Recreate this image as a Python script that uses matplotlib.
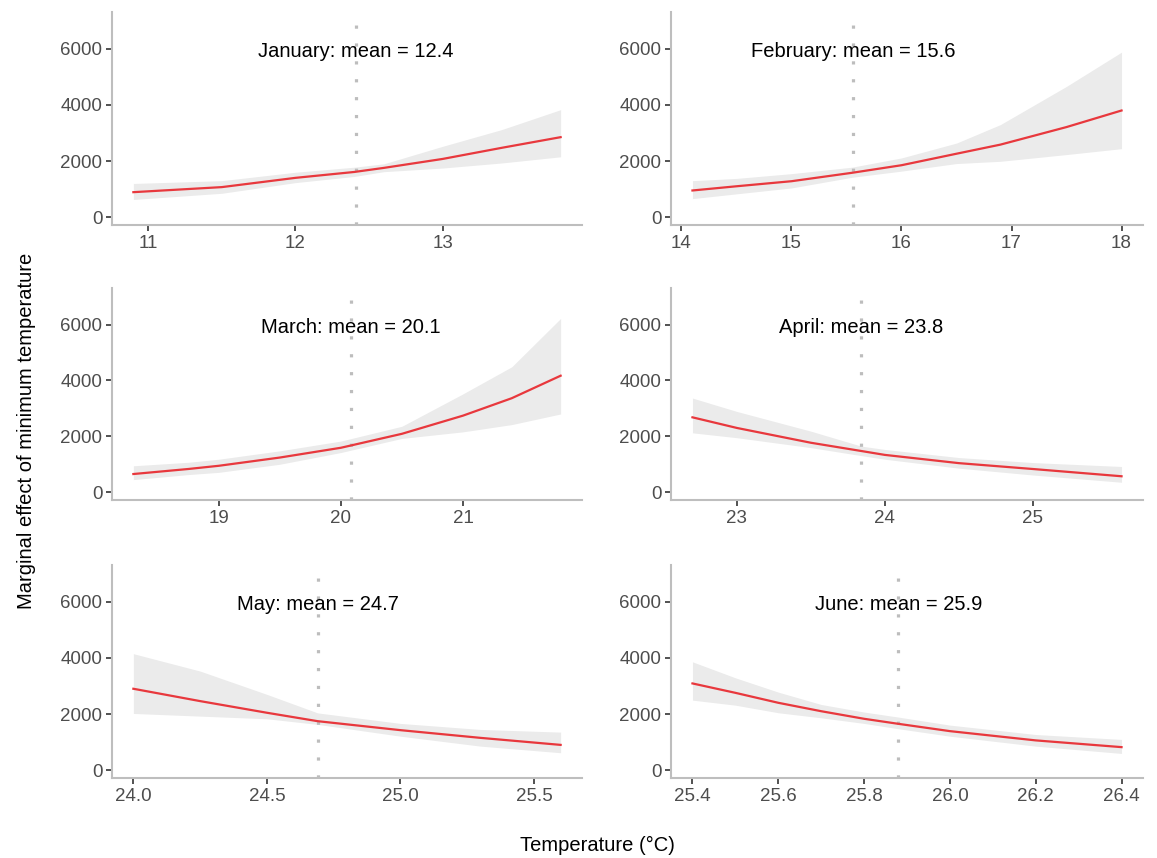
import numpy as np
import matplotlib
matplotlib.use('Agg')
import matplotlib.pyplot as plt
from matplotlib.ticker import FixedLocator

plt.rcParams['font.family'] = ['Liberation Sans', 'DejaVu Sans']

# values (temperature, fitted effect, lower / upper band)
months = ['January', 'February', 'March', 'April', 'May', 'June']
month_means = [12.4, 15.6, 20.1, 23.8, 24.7, 25.9]
vline_pos = [12.41, 15.56, 20.08, 23.84, 24.69, 25.88]

jan_t = [10.9, 11.5, 12.0, 12.4, 12.6, 13.0, 13.4, 13.8]
jan_fit = [890, 1070, 1400, 1610, 1755, 2075, 2470, 2850]
jan_lo = [630, 850, 1230, 1450, 1620, 1750, 1930, 2150]
jan_hi = [1200, 1300, 1600, 1780, 1900, 2525, 3120, 3830]

feb_t = [14.1, 14.5, 15.0, 15.55, 16.0, 16.5, 16.9, 17.5, 18.0]
feb_fit = [950, 1100, 1280, 1580, 1850, 2260, 2585, 3210, 3800]
feb_lo = [660, 830, 1040, 1420, 1640, 1910, 1990, 2230, 2440]
feb_hi = [1300, 1380, 1550, 1780, 2110, 2640, 3300, 4660, 5880]

mar_t = [18.3, 18.75, 19.0, 19.5, 20.0, 20.5, 21.0, 21.4, 21.8]
mar_fit = [650, 830, 945, 1240, 1590, 2090, 2740, 3365, 4170]
mar_lo = [450, 630, 710, 1000, 1420, 1925, 2160, 2420, 2800]
mar_hi = [945, 1070, 1180, 1480, 1830, 2360, 3520, 4490, 6220]

apr_t = [22.7, 23.0, 23.5, 23.84, 24.0, 24.5, 25.0, 25.6]
apr_fit = [2680, 2300, 1770, 1475, 1335, 1040, 830, 570]
apr_lo = [2125, 1950, 1595, 1310, 1180, 860, 615, 355]
apr_hi = [3370, 2890, 2185, 1650, 1530, 1240, 1060, 920]

may_t = [24.0, 24.25, 24.5, 24.69, 25.0, 25.3, 25.6]
may_fit = [2900, 2460, 2045, 1745, 1425, 1150, 900]
may_lo = [2020, 1925, 1830, 1630, 1210, 855, 620]
may_hi = [4150, 3530, 2700, 2040, 1665, 1450, 1355]

jun_t = [25.4, 25.5, 25.6, 25.7, 25.8, 25.88, 26.0, 26.2, 26.4]
jun_fit = [3090, 2755, 2400, 2100, 1830, 1650, 1390, 1060, 820]
jun_lo = [2495, 2315, 2045, 1865, 1665, 1475, 1210, 855, 595]
jun_hi = [3860, 3290, 2780, 2340, 2070, 1890, 1605, 1270, 1095]

x_ticks = [[11, 12, 13], [14, 15, 16, 17, 18], [19, 20, 21], [23, 24, 25],
           [24.0, 24.5, 25.0, 25.5], [25.4, 25.6, 25.8, 26.0, 26.2, 26.4]]
x_ticklabels = [['11', '12', '13'], ['14', '15', '16', '17', '18'], ['19', '20', '21'],
                ['23', '24', '25'], ['24.0', '24.5', '25.0', '25.5'],
                ['25.4', '25.6', '25.8', '26.0', '26.2', '26.4']]
y_ticks = [0, 2000, 4000, 6000]

series = [(jan_t, jan_fit, jan_lo, jan_hi), (feb_t, feb_fit, feb_lo, feb_hi),
          (mar_t, mar_fit, mar_lo, mar_hi), (apr_t, apr_fit, apr_lo, apr_hi),
          (may_t, may_fit, may_lo, may_hi), (jun_t, jun_fit, jun_lo, jun_hi)]

W, H = 1157, 858
fig = plt.figure(figsize=(W / 100, H / 100), dpi=100)

# panel boxes in pixels: left, top, right, bottom
col_x = [(112, 582), (671, 1143)]
row_y = [(12, 225), (288, 500), (565, 778)]

for k in range(6):
    r, c = divmod(k, 2)
    x0, x1 = col_x[c]
    y0, y1 = row_y[r]
    ax = fig.add_axes([x0 / W, 1 - y1 / H, (x1 - x0) / W, (y1 - y0) / H])
    t, fit, lo, hi = series[k]

    ax.fill_between(t, lo, hi, color='#EBEBEB', lw=0, zorder=1)
    ax.plot(t, fit, color='#E8383D', lw=1.6, zorder=3)
    ax.axvline(vline_pos[k], color='#BDBDBD', lw=2.3, ls=(0, (1, 4.6)), zorder=2)
    ax.text(vline_pos[k], 5900, f'{months[k]}: mean = {month_means[k]}',
            ha='center', va='center', fontsize=14.5, color='black', zorder=4)

    span = t[-1] - t[0]
    ax.set_xlim(t[0] - 0.05 * span, t[-1] + 0.05 * span)
    ax.set_ylim(-280, 7310)
    ax.xaxis.set_major_locator(FixedLocator(x_ticks[k]))
    ax.set_xticklabels(x_ticklabels[k])
    ax.yaxis.set_major_locator(FixedLocator(y_ticks))
    ax.set_yticklabels([str(v) for v in y_ticks])

    for s in ['top', 'right']:
        ax.spines[s].set_visible(False)
    for s in ['left', 'bottom']:
        ax.spines[s].set_color('#BEBEBE')
        ax.spines[s].set_linewidth(1.5)
    ax.tick_params(length=4, width=1.2, color='#333333', labelcolor='#4D4D4D',
                   labelsize=13.5, pad=3)

fig.text(597 / W, 1 - 845 / H, 'Temperature (°C)', ha='center', va='center',
         fontsize=14.5, color='black')
fig.text(27 / W, 1 - 431 / H, 'Marginal effect of minimum temperature', ha='center',
         va='center', rotation=90, fontsize=14.5, color='black')

fig.savefig('out.png', dpi=100, facecolor='white')
